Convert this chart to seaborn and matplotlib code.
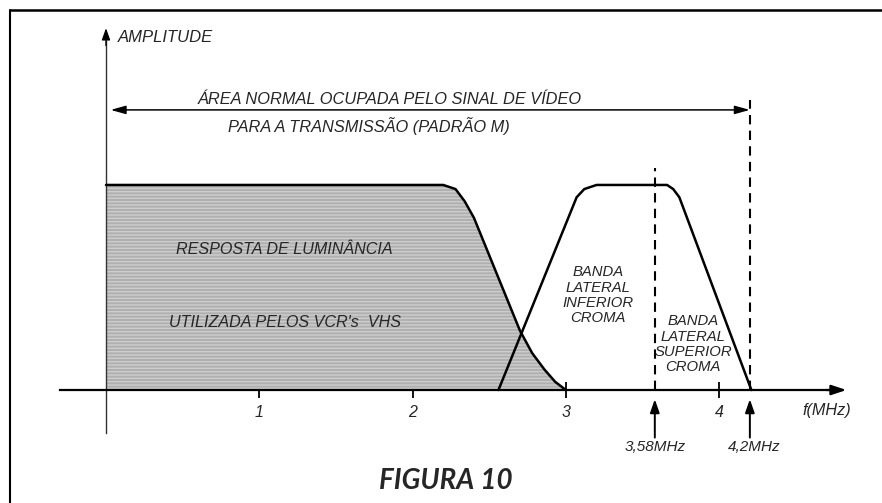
import matplotlib
matplotlib.use("Agg")
import matplotlib.pyplot as plt
import seaborn as sns
import numpy as np

# ---- data (frequency in MHz, relative amplitude) ----
lum_x = [0.0, 2.20, 2.28, 2.34, 2.40, 2.70, 2.78, 2.86, 2.93, 3.00]
lum_y = [1.0, 1.00, 0.98, 0.92, 0.84, 0.29, 0.18, 0.10, 0.04, 0.00]
chroma_x = [2.56, 3.07, 3.12, 3.20, 3.66, 3.70, 3.74, 4.21]
chroma_y = [0.00, 0.94, 0.98, 1.00, 1.00, 0.98, 0.94, 0.00]
tick_vals = [1, 2, 3, 4]
tick_labels = ["1", "2", "3", "4"]
markers_f = [3.58, 4.2]
marker_labels = ["3,58MHz", "4,2MHz"]
marker_tops = [1.083, 1.415]

sns.set_style("white")
plt.rcParams['font.family'] = ['Liberation Sans', 'DejaVu Sans']
plt.rcParams['hatch.linewidth'] = 1.0

fig = plt.figure(figsize=(8.82, 5.03), dpi=100)
ax = fig.add_axes([0, 0, 1, 1])
ax.set_xlim(-0.6915, 5.062)
ax.set_ylim(-0.551, 1.902)

# luminance fill
ax.fill_between(lum_x, lum_y, 0, facecolor="#b0b0b0", edgecolor="#cdcdcd",
                hatch="-----", linewidth=0, zorder=1)
sns.lineplot(x=lum_x, y=lum_y, ax=ax, color="black", lw=1.8, sort=False,
             estimator=None, zorder=3)
sns.lineplot(x=chroma_x, y=chroma_y, ax=ax, color="black", lw=1.8, sort=False,
             estimator=None, zorder=3)

# axes spines
for s in ["top", "right"]:
    ax.spines[s].set_visible(False)
ax.spines["bottom"].set_position(("data", 0))
ax.spines["left"].set_position(("data", 0))
ax.spines["bottom"].set_bounds(-0.30, 4.74)
ax.spines["left"].set_bounds(-0.21, 1.70)
ax.spines["bottom"].set_linewidth(1.6)
ax.spines["left"].set_linewidth(1.0)
ax.spines["bottom"].set_color("black")
ax.spines["left"].set_color("#333333")
ax.spines["bottom"].set_zorder(4)

ax.set_xticks(tick_vals)
ax.set_xticklabels(tick_labels, fontstyle="italic", fontsize=11.5)
ax.set_yticks([])
ax.tick_params(axis="x", bottom=True, direction="inout", length=11, width=1.3,
               color="black", pad=5)

# axis arrowheads
ax.annotate("", xy=(4.83, 0), xytext=(4.70, 0),
            arrowprops=dict(arrowstyle="-|>,head_length=0.9,head_width=0.3",
                            color="black", lw=1.6, shrinkA=0, shrinkB=0))
ax.annotate("", xy=(0, 1.765), xytext=(0, 1.68),
            arrowprops=dict(arrowstyle="-|>,head_length=0.7,head_width=0.25",
                            color="black", lw=1.0, shrinkA=0, shrinkB=0))

# dashed markers and arrows
for f, top, lab in zip(markers_f, marker_tops, marker_labels):
    ax.plot([f, f], [0, top], color="black", lw=1.5, ls=(0, (4.5, 3)), zorder=3)
    ax.annotate("", xy=(f, -0.045), xytext=(f, -0.232),
                arrowprops=dict(arrowstyle="-|>,head_length=0.8,head_width=0.28",
                                color="black", lw=1.4, shrinkA=0, shrinkB=0))
    ax.text(f + (0.03 if f > 4 else 0), -0.278, lab, ha="center", va="center",
            fontsize=11, fontstyle="italic")

# double arrow
ax.annotate("", xy=(4.20, 1.366), xytext=(0.03, 1.366),
            arrowprops=dict(arrowstyle="<|-|>,head_length=0.9,head_width=0.25",
                            color="black", lw=1.1, shrinkA=0, shrinkB=0))

ax.text(0.075, 1.717, "AMPLITUDE", ha="left", va="center", fontsize=12, fontstyle="italic")
ax.text(1.853, 1.415, "ÁREA NORMAL OCUPADA PELO SINAL DE VÍDEO", ha="center", va="center",
        fontsize=11.8, fontstyle="italic")
ax.text(1.715, 1.288, "PARA A TRANSMISSÃO (PADRÃO M)", ha="center", va="center",
        fontsize=11.8, fontstyle="italic")
ax.text(1.161, 0.683, "RESPOSTA DE LUMINÂNCIA", ha="center", va="center",
        fontsize=11.6, fontstyle="italic")
ax.text(1.167, 0.327, "UTILIZADA PELOS VCR's  VHS", ha="center", va="center",
        fontsize=11.6, fontstyle="italic")
ax.text(3.21, 0.463, "BANDA\nLATERAL\nINFERIOR\nCROMA", ha="center", va="center",
        fontsize=10.7, fontstyle="italic", linespacing=1.1)
ax.text(3.83, 0.224, "BANDA\nLATERAL\nSUPERIOR\nCROMA", ha="center", va="center",
        fontsize=10.7, fontstyle="italic", linespacing=1.1)
ax.text(4.70, -0.098, "f(MHz)", ha="center", va="center", fontsize=11.7, fontstyle="italic")
ax.text(2.218, -0.445, "FIGURA 10", ha="center", va="center", fontsize=20,
        fontstyle="italic", fontweight="bold", family=["Lato", "DejaVu Sans"])

# frame border
ax.plot([10 / 882, 10 / 882], [0, 1 - 10 / 503], transform=ax.transAxes,
        color="black", lw=1.5, clip_on=False)
ax.plot([10 / 882, 1], [1 - 10 / 503, 1 - 10 / 503], transform=ax.transAxes,
        color="black", lw=1.8, clip_on=False)

fig.savefig("out.png", dpi=100)
